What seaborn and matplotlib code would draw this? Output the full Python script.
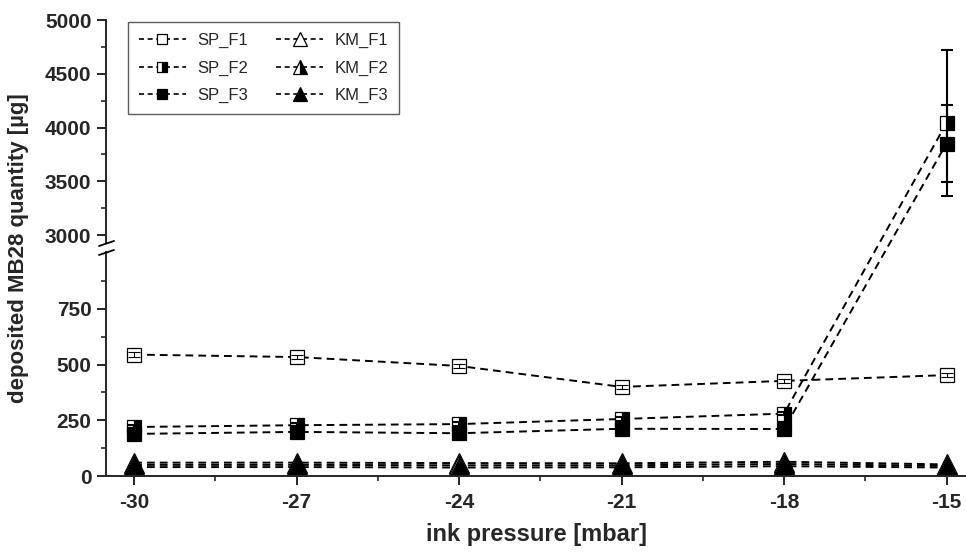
import numpy as np
import pandas as pd
import matplotlib
matplotlib.use("Agg")
import matplotlib.pyplot as plt
from matplotlib.lines import Line2D
from matplotlib.patches import Rectangle
import seaborn as sns

# ---------------- data ----------------
pressure = [-30, -27, -24, -21, -18, -15]
sp_f1 = [545, 534, 494, 400, 427, 453]
sp_f2 = [220, 228, 233, 256, 280, 4042]
sp_f3 = [189, 198, 192, 212, 211, 3851]
km_f1 = [60, 60, 58, 57, 64, 52]
km_f2 = [50, 50, 48, 48, 54, 45]
km_f3 = [40, 40, 38, 39, 44, 38]
sp_f1_err = [10, 10, 10, 10, 10, 10]
sp_f2_err = [8, 8, 8, 8, 8, 680]
sp_f3_err = [8, 8, 8, 8, 8, 358]
series_names = ["SP_F1", "SP_F2", "SP_F3", "KM_F1", "KM_F2", "KM_F3"]
x_ticks = [-30, -27, -24, -21, -18, -15]
y_ticks = [0, 250, 500, 750, 3000, 3500, 4000, 4500, 5000]
y_minor = [125, 375, 625, 875, 3250, 3750, 4250, 4750]

# broken y axis: piecewise linear scale
LO_TOP, HI_BOT = 1010.0, 2926.0
GAP = 36.0
RATIO = 0.4827


def fwd(v):
    v = np.asarray(v, dtype=float)
    mid = LO_TOP + (v - LO_TOP) * GAP / (HI_BOT - LO_TOP)
    hi = LO_TOP + GAP + (v - HI_BOT) * RATIO
    return np.where(v <= LO_TOP, v, np.where(v >= HI_BOT, hi, mid))


def inv(u):
    u = np.asarray(u, dtype=float)
    mid = LO_TOP + (u - LO_TOP) * (HI_BOT - LO_TOP) / GAP
    hi = HI_BOT + (u - LO_TOP - GAP) / RATIO
    return np.where(u <= LO_TOP, u, np.where(u >= LO_TOP + GAP, hi, mid))


sns.set_style("ticks")
plt.rcParams["font.family"] = ["Liberation Sans", "DejaVu Sans"]

W, H = 966, 557
fig = plt.figure(figsize=(W / 100, H / 100), dpi=100)
left = 106 / W
ax = fig.add_axes([left, 1 - 476 / H, 1.0 - left, (476 - 20) / H])
ax.set_yscale("function", functions=(fwd, inv))

styles = {
    "SP_F1": dict(marker="s", markerfacecolor="white", fillstyle="full", markersize=9.5),
    "SP_F2": dict(marker="s", markerfacecolor="black", markerfacecoloralt="white", fillstyle="right", markersize=9.5),
    "SP_F3": dict(marker="s", markerfacecolor="black", fillstyle="full", markersize=9.5),
    "KM_F1": dict(marker="^", markerfacecolor="white", fillstyle="full", markersize=14),
    "KM_F2": dict(marker="^", markerfacecolor="black", markerfacecoloralt="white", fillstyle="right", markersize=14),
    "KM_F3": dict(marker="^", markerfacecolor="black", fillstyle="full", markersize=14),
}
legend_sizes = {"SP_F1": 7.5, "SP_F2": 7.5, "SP_F3": 7.5,
                "KM_F1": 9.5, "KM_F2": 9.5, "KM_F3": 9.5}
values = dict(zip(series_names, [sp_f1, sp_f2, sp_f3, km_f1, km_f2, km_f3]))
errors = {"SP_F1": sp_f1_err, "SP_F2": sp_f2_err, "SP_F3": sp_f3_err}

for name in series_names:
    df = pd.DataFrame({"x": pressure, "y": values[name]})
    sns.lineplot(data=df, x="x", y="y", ax=ax, color="black",
                 linestyle=(0, (4, 2.6)), linewidth=1.4,
                 markeredgecolor="black", markeredgewidth=0.9,
                 label=name, legend=False, **styles[name])
for name, err in errors.items():
    thin = name == "SP_F1"
    ax.errorbar(pressure, values[name], yerr=err, fmt="none",
                ecolor="black", elinewidth=0.8 if thin else 1.5,
                capsize=4, capthick=0.8 if thin else 1.5, zorder=3)

ax.set_xlim(-30.52, -14.64)
ax.set_ylim(0, 5000)
ax.spines["top"].set_visible(False)
ax.spines["right"].set_visible(False)
ax.spines["left"].set_linewidth(1.4)
ax.spines["bottom"].set_linewidth(1.4)

ax.set_yticks(y_ticks)
ax.set_yticks(y_minor, minor=True)
ax.set_yticklabels([str(t) for t in y_ticks], fontweight="bold", fontsize=15)
ax.set_xticks(x_ticks)
ax.set_xticks([-28.5, -25.5, -22.5, -19.5, -16.5], minor=True)
ax.set_xticklabels([str(t) for t in x_ticks], fontweight="bold", fontsize=15)
ax.tick_params(axis="both", which="major", length=6.5, width=1.4, direction="out")
ax.tick_params(axis="both", which="minor", length=3.5, width=1.2, direction="out")
ax.tick_params(axis="y", which="major", pad=4)
ax.tick_params(axis="x", which="major", pad=6)

ax.set_xlabel("ink pressure [mbar]", fontsize=17, fontweight="bold", labelpad=8)
ax.set_ylabel("")
fig.text(19 / W, 1 - 248 / H, "deposited MB28 quantity [µg]", rotation=90,
         ha="center", va="center", fontsize=16, fontweight="bold")

# axis break marks
fig.add_artist(Rectangle((103 / W, 1 - 251 / H), 7 / W, 7 / H, facecolor="white",
                         edgecolor="none", transform=fig.transFigure, zorder=5))
for y0 in (246, 255):
    fig.add_artist(Line2D([99 / W, 114 / W], [1 - y0 / H, 1 - (y0 - 5) / H],
                          color="black", linewidth=1.3, transform=fig.transFigure, zorder=6))

# legend
handles = []
for name in series_names:
    st = styles[name]
    handles.append(Line2D([], [], color="black", linestyle=(0, (3, 2.2)), linewidth=1.2,
                          markeredgecolor="black", markeredgewidth=0.9,
                          **{**st, "markersize": legend_sizes[name]}))
leg = fig.legend(handles, series_names, loc="upper left",
                 bbox_to_anchor=(128 / W, 1 - 22 / H), borderaxespad=0,
                 ncol=2, fontsize=12, frameon=True, fancybox=False,
                 edgecolor="#333333", handlelength=2.8, handletextpad=0.7,
                 columnspacing=1.7, labelspacing=0.75, borderpad=0.65)
leg.get_frame().set_linewidth(1.0)

fig.savefig("out.png", dpi=100)
